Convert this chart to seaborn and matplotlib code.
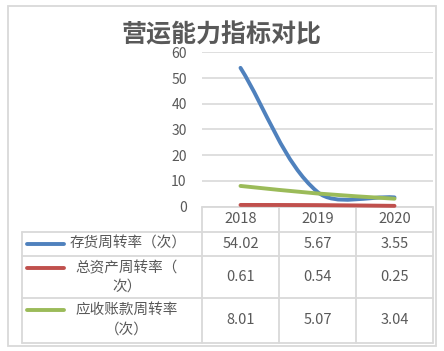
import matplotlib
matplotlib.use("Agg")
import matplotlib.pyplot as plt
import seaborn as sns
import numpy as np
from matplotlib.path import Path
from matplotlib.patches import PathPatch, Rectangle

# --- DATA ---
title = "营运能力指标对比"
years = ["2018", "2019", "2020"]
series_names = ["存货周转率（次）", "总资产周转率（次）", "应收账款周转率（次）"]
inventory_turnover = [54.02, 5.67, 3.55]
total_asset_turnover = [0.61, 0.54, 0.25]
receivable_turnover = [8.01, 5.07, 3.04]
# how the row labels wrap inside the data table
label_lines = [["存货周转率（次）"], ["总资产周转率（", "次）"], ["应收账款周转率", "（次）"]]
y_ticks = [0, 10, 20, 30, 40, 50, 60]

series_values = [inventory_turnover, total_asset_turnover, receivable_turnover]
colors = ["#4f81bd", "#c0504d", "#9bbb59"]
text_color = "#595959"
grid_color = "#d9d9d9"

W, H = 444, 351

sns.set_theme(style="white")
plt.rcParams["font.family"] = ["Noto Sans CJK SC", "DejaVu Sans"]


def smooth_path(xs, ys, sx, sy):
    """Smoothed line as cubic bezier segments, tangents weighted by screen length."""
    pts = np.column_stack([xs, ys]).astype(float)
    scr = pts * [sx, sy]
    n = len(pts)
    d = np.hypot(*np.diff(scr, axis=0).T)

    def tangent(i):
        if i == 0 or i == n - 1:
            return None
        return pts[i + 1] - pts[i - 1]

    verts = [pts[0]]
    codes = [Path.MOVETO]
    for i in range(n - 1):
        t0 = tangent(i)
        t1 = tangent(i + 1)
        if t0 is None:
            c1 = pts[i] + (pts[i + 1] - pts[i]) / 3.0
        else:
            c1 = pts[i] + t0 * d[i] / (d[i - 1] + d[i]) / 3.0
        if t1 is None:
            c2 = pts[i + 1] - (pts[i + 1] - pts[i]) / 3.0
        else:
            c2 = pts[i + 1] - t1 * d[i] / (d[i] + d[i + 1]) / 3.0
        verts += [c1, c2, pts[i + 1]]
        codes += [Path.CURVE4] * 3
    return Path(verts, codes)


fig = plt.figure(figsize=(W / 100, H / 100), dpi=100)
fig.patch.set_facecolor("white")

# pixel overlay for border and table
ov = fig.add_axes([0, 0, 1, 1])
ov.set_xlim(0, W)
ov.set_ylim(H, 0)
ov.axis("off")
ov.patch.set_alpha(0)

ov.add_patch(Rectangle((8, 6), 428, 340, fill=False, edgecolor=grid_color, lw=1.3))

# plot area
px0, px1, py0, py1 = 202, 433, 206.5, 52.5
ax = fig.add_axes([px0 / W, 1 - py0 / H, (px1 - px0) / W, (py0 - py1) / H])
ax.set_xlim(-0.5, len(years) - 0.5)
ax.set_ylim(0, 60)
ax.set_yticks(y_ticks)
ax.set_xticks([])
ax.tick_params(axis="y", length=0, pad=11, labelsize=10, labelcolor=text_color)
for s in ax.spines.values():
    s.set_visible(False)
ax.grid(axis="y", color=grid_color, lw=1.2)
ax.set_axisbelow(True)
ax.patch.set_alpha(0)

xs = np.arange(len(years))
sx = (px1 - px0) / len(years)
sy = (py0 - py1) / 60
for vals, c in zip(series_values, colors):
    ax.add_patch(PathPatch(smooth_path(xs, vals, sx, sy), facecolor="none", edgecolor=c,
                           lw=2.8, capstyle="round", clip_on=False))

fig.text(222 / W, 1 - 35 / H, title, ha="center", va="center", fontsize=18,
         fontweight="bold", color=text_color)

# data table
col_edges = [202, 279, 356, 433]
row_edges = [206.5, 232, 256, 298, 343]
lw_t = 1.3
ov.plot([202, 433], [206.5, 206.5], color=grid_color, lw=lw_t)
for y in row_edges[1:]:
    ov.plot([22, 433], [y, y], color=grid_color, lw=lw_t)
for x in col_edges:
    ov.plot([x, x], [206.5, 343], color=grid_color, lw=lw_t)
ov.plot([22, 22], [232, 343], color=grid_color, lw=lw_t)

for j, yr in enumerate(years):
    cx = (col_edges[j] + col_edges[j + 1]) / 2
    ov.text(cx, 219, yr, ha="center", va="center", fontsize=10.5, color=text_color)

key_y = [243.5, 268, 310]
line_y = [[243.5], [268, 287], [310, 330]]
for i, vals in enumerate(series_values):
    r0, r1 = row_edges[i + 1], row_edges[i + 2]
    ov.plot([27, 64], [key_y[i], key_y[i]], color=colors[i], lw=2.8, solid_capstyle="round")
    lines = label_lines[i]
    if len(lines) == 1:
        ov.text(70, line_y[i][0], lines[0], ha="left", va="center", fontsize=10.5,
                color=text_color)
    else:
        for k, t in enumerate(lines):
            ov.text(127, line_y[i][k], t, ha="center", va="center", fontsize=10.5,
                    color=text_color)
    for j, v in enumerate(vals):
        cx = (col_edges[j] + col_edges[j + 1]) / 2
        ov.text(cx, (r0 + r1) / 2, f"{v:.2f}", ha="center", va="center", fontsize=10.5,
                color=text_color)

fig.savefig("out.png", dpi=100, facecolor="white")
